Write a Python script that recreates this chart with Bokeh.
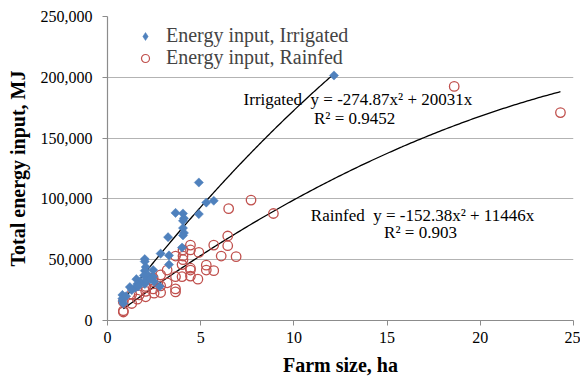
import numpy as np
from bokeh.plotting import figure
from bokeh.models import (ColumnDataSource, Range1d, FixedTicker, NumeralTickFormatter,
                          Legend, LegendItem, Label)
from bokeh.embed import file_html
from bokeh.resources import INLINE

# ---- data (farm size ha, total energy input MJ) ----
irr_x = [12.15, 5.7, 5.3, 4.9, 4.9, 3.65, 4.05, 4.1, 4.05, 4.05, 4.1, 4.05, 3.25, 4.0,
         2.85, 3.3, 3.3, 2.0, 2.0, 2.05, 2.45, 2.0, 1.95, 2.2, 2.45, 1.55, 1.75, 1.6,
         2.0, 2.1, 1.2, 1.5, 1.65, 1.3, 0.8, 0.8, 0.8, 0.85, 2.5, 2.8, 2.3, 1.0]
irr_y = [201500, 98500, 97000, 113500, 87500, 88500, 88000, 84000, 82000, 76000, 72000,
         70000, 68500, 60000, 55000, 53500, 46000, 50500, 48500, 44000, 41500, 41000,
         37000, 37000, 36000, 34000, 32000, 30000, 30000, 33000, 27500, 27000, 28000,
         25000, 21000, 18000, 16000, 14000, 32000, 28000, 34000, 20000]

rain_x = [24.3, 18.6, 8.9, 7.7, 6.9, 6.5, 6.45, 6.45, 6.1, 5.7, 5.7, 5.3, 5.3, 4.9, 4.85,
          4.45, 4.45, 4.05, 4.05, 4.05, 3.65, 4.0, 4.45, 4.45, 4.0, 4.45, 3.65, 3.2, 2.85,
          3.2, 3.65, 3.65, 2.85, 2.85, 2.45, 2.45, 2.05, 2.05, 2.45, 2.5, 2.05, 1.7, 1.3,
          1.6, 1.3, 0.85, 0.85, 0.85]
rain_y = [171000, 192500, 88000, 99000, 52500, 92000, 69500, 61500, 53000, 62000, 41000,
          45500, 41500, 56000, 34000, 62000, 58000, 58000, 53000, 50000, 53000, 46000,
          43000, 41500, 36000, 36500, 36000, 41500, 37500, 31000, 26000, 23500, 28500,
          23000, 35000, 32000, 28000, 24000, 26000, 22500, 19500, 21000, 21500, 17500,
          14000, 15500, 8000, 7000]

# trendline coefficients shown on the chart (y = a*x^2 + b*x)
irr_coef = (-274.87, 20031.0)
rain_coef = (-152.38, 11446.0)
irr_r2 = "0.9452"
rain_r2 = "0.903"

x_ticks = [0, 5, 10, 15, 20, 25]
y_ticks = [0, 50000, 100000, 150000, 200000, 250000]

FONT = "Liberation Serif"
BLUE = "#4f81bd"
RED = "#c0504d"
GRID = "#b3b3b3"
AXIS = "#8c8c8c"

p = figure(width=580, height=378, output_backend="svg", toolbar_location=None,
           x_range=Range1d(0, 25), y_range=Range1d(0, 250000),
           min_border_left=107, min_border_right=7, min_border_top=16, min_border_bottom=57)
p.outline_line_color = None
p.background_fill_color = "white"
p.border_fill_color = "white"

p.xaxis.ticker = FixedTicker(ticks=x_ticks)
p.yaxis.ticker = FixedTicker(ticks=y_ticks)
p.yaxis.formatter = NumeralTickFormatter(format="0,0")
p.xgrid.grid_line_color = None
p.ygrid.grid_line_color = GRID
p.ygrid.grid_line_width = 1.2

for ax in (p.xaxis[0], p.yaxis[0]):
    ax.axis_line_color = AXIS
    ax.axis_line_width = 1.2
    ax.major_tick_line_color = AXIS
    ax.major_tick_in = 0
    ax.major_tick_out = 5
    ax.minor_tick_line_color = None
    ax.major_label_text_font = FONT
    ax.major_label_text_font_size = "16px"
    ax.major_label_text_color = "black"
    ax.axis_label_text_font = FONT
    ax.axis_label_text_font_size = "20px"
    ax.axis_label_text_font_style = "bold"
    ax.axis_label_text_color = "black"

p.xaxis.axis_label = "Farm size, ha"
p.yaxis.axis_label = "Total energy input, MJ"
p.xaxis.major_label_standoff = 6
p.yaxis.major_label_standoff = 10
p.xaxis.axis_label_standoff = 8
p.yaxis.axis_label_standoff = 9

# trendlines
def trend(coef, xs):
    xs = np.linspace(min(xs), max(xs), 200)
    return xs, coef[0] * xs ** 2 + coef[1] * xs

tx, ty = trend(irr_coef, irr_x)
p.line(tx, ty, line_color="black", line_width=1.3)
tx2, ty2 = trend(rain_coef, rain_x)
p.line(tx2, ty2, line_color="black", line_width=1.3)

src_irr = ColumnDataSource(dict(x=irr_x, y=irr_y))
src_rain = ColumnDataSource(dict(x=rain_x, y=rain_y))
p.scatter("x", "y", source=src_rain, marker="circle", size=9.5,
          fill_color=None, line_color=RED, line_width=1.3)
p.scatter("x", "y", source=src_irr, marker="square", angle=np.pi / 4, size=6.5,
          fill_color=BLUE, line_color=BLUE, line_width=0.5)

# legend-only glyphs (smaller, as in the reference legend)
leg_irr = p.scatter(x=[np.nan], y=[np.nan], marker="diamond", size=9,
                    fill_color=BLUE, line_color=BLUE, line_width=0.5)
leg_rain = p.scatter(x=[np.nan], y=[np.nan], marker="circle", size=7.5,
                     fill_color=None, line_color=RED, line_width=1.2)

def add_legend(label, rend, loc):
    lg = Legend(items=[LegendItem(label=label, renderers=[rend])],
                location=loc, orientation="vertical",
                padding=0, margin=0, spacing=0, glyph_width=20, glyph_height=20,
                label_height=20, label_standoff=11,
                label_text_font=FONT, label_text_font_size="20px",
                border_line_color=None, background_fill_alpha=0)
    p.add_layout(lg, "center")

add_legend("Energy input, Irrigated", leg_irr, (28, 273))
add_legend("Energy input, Rainfed", leg_rain, (28, 251))

def lab(x, y, t):
    p.add_layout(Label(x=x, y=y, text=t, text_font=FONT, text_font_size="17px",
                       text_color="black", text_baseline="alphabetic", text_align="left"))

NB = "\u00a0\u00a0"
lab(7.30, 181500, "Irrigated" + NB + "y = " + str(irr_coef[0]) + "x\u00b2 + " + str(int(irr_coef[1])) + "x")
lab(11.08, 166500, "R\u00b2 = " + irr_r2)
lab(10.91, 86700, "Rainfed" + NB + "y = " + str(rain_coef[0]) + "x\u00b2 + " + str(int(rain_coef[1])) + "x")
lab(14.84, 72000, "R\u00b2 = " + rain_r2)

open("out.html", "w").write(file_html(p, INLINE))
